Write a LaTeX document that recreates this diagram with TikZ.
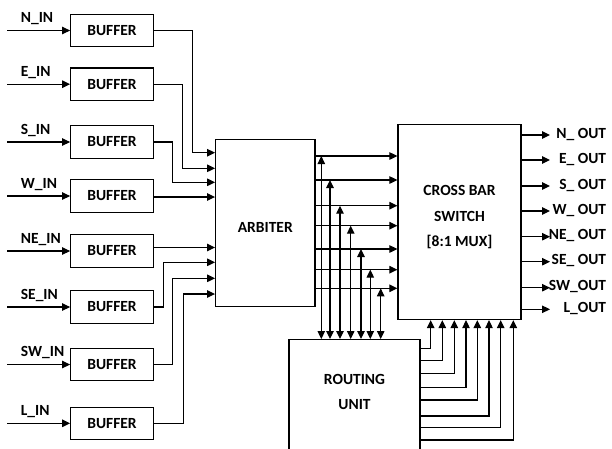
\documentclass[tikz,border=0pt]{standalone}
\usepackage{fontspec}
\setmainfont{Carlito}
\usetikzlibrary{arrows.meta}
\begin{document}
\begin{tikzpicture}[x=1pt,y=-1pt,line width=1.1pt,>={Triangle[length=8pt,width=7.5pt]},
  every node/.style={font=\fontsize{15.5}{25.5}\selectfont\bfseries},
  blk/.style={draw,line width=1.2pt,inner sep=0pt}]
\useasboundingbox (0,0) rectangle (612,448);
\clip (0,0) rectangle (612,448);
\foreach \nm/\y in {N/30.5,E/84.2,S/142,W/196,NE/251,SE/307,SW/364.5,L/423.3} {
  \node[blk,minimum width=82.6,minimum height=32.4] (buf\nm) at (112,\y) {BUFFER};
  \coordinate (in\nm) at (7,\y);
  \draw[->] (in\nm) -- (buf\nm.west);
  \node[anchor=base west] (lbl\nm) at (17,\y-8) {\nm\_IN};
}
\node[blk,minimum width=99.3,minimum height=167.4,text height=18pt] (arb) at (265.3,223) {ARBITER};
\node[blk,minimum width=123,minimum height=195,align=center,text depth=12pt] (xbar) at (459.5,222) {CROSS BAR\\SWITCH\\{[8:1 MUX]}};
\node[blk,minimum width=131,minimum height=140,anchor=north,align=center,text depth=35pt] (route) at (354.5,339) {ROUTING\\UNIT};
\foreach \nm/\jx/\ty in {N/192.7/152.7,E/182.3/168.3,S/172.3/182.3,SE/163.3/262.3,SW/172.3/278.3,L/183.3/294}
  \draw[->] (buf\nm.east) -- (\jx,0 |- buf\nm.east) |- (arb.west |- 0,\ty);
\foreach \nm/\ty in {W/197,NE/247.5}
  \draw[->] (buf\nm.east |- 0,\ty) -- (arb.west |- 0,\ty);
\foreach \x/\y [count=\i] in {321.3/156,330/180,340/205.7,350.7/225.7,361/249,370.3/269.7,380.7/288.3} {
  \draw[->] (arb.east |- 0,\y) -- (xbar.west |- 0,\y);
  \coordinate (tap\i) at (\x,\y);
  \draw[<->] (tap\i) -- (tap\i |- route.north);
}
\foreach \x/\y in {430.7/348.3,442.3/360.7,454.3/373.3,466/387.3,477.3/400,489/416,500.7/427.7,513.3/440}
  \draw[->] (route.east |- 0,\y) -| (\x,0 |- xbar.south);
\foreach \nm/\y/\txt in {N/135/N\_ OUT,E/160/E\_ OUT,S/186/S\_ OUT,W/211/W\_ OUT,NE/236.7/NE\_ OUT,SE/261.7/SE\_ OUT,SW/287.7/SW\_OUT,L/309.3/L\_OUT} {
  \coordinate (end\nm) at (550,\y);
  \draw[->] (xbar.east |- end\nm) -- (end\nm);
  \node[anchor=base east] (out\nm) at (610,\y+3) {\txt};
}
\end{tikzpicture}
\end{document}
